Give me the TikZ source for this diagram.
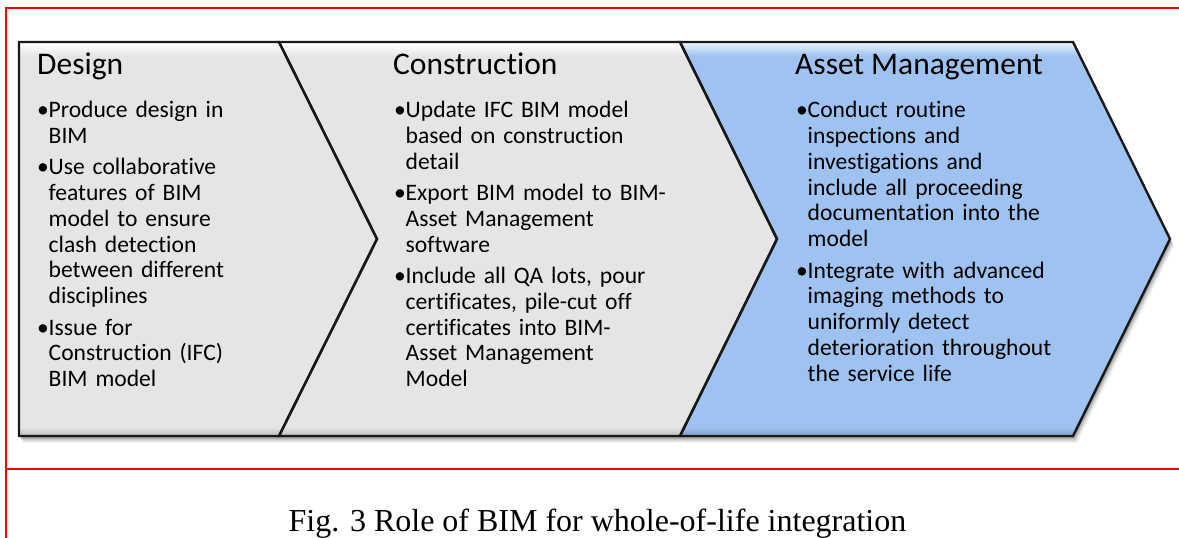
\documentclass[tikz,border=0pt]{standalone}
\usepackage{fontspec}
\setmainfont{Carlito}[Ligatures=NoCommon]
\newfontfamily\capfont{Liberation Serif}
\definecolor{chgray}{RGB}{229,229,229}
\definecolor{chblue}{RGB}{158,195,240}
\definecolor{framered}{RGB}{255,0,0}
\definecolor{edge}{RGB}{25,25,25}
\newcommand{\bitem}[1]{\noindent\hangindent=11.5pt\hangafter=1\makebox[11.5pt][l]{\textbullet}#1\par}
\tikzset{
  shapeA/.style={insert path={(19,42) -- (279,42) -- (377,239) -- (279,436) -- (19,436) -- cycle}},
  shapeB/.style={insert path={(279,42) -- (680,42) -- (777,239) -- (680,436) -- (279,436) -- (377,239) -- cycle}},
  shapeC/.style={insert path={(680,42) -- (1073,42) -- (1170,239) -- (1073,436) -- (680,436) -- (777,239) -- cycle}},
  shapeAll/.style={insert path={(19,42) -- (1073,42) -- (1170,239) -- (1073,436) -- (19,436) -- cycle}},
  border/.style={draw=edge, line width=2.4pt, line join=miter},
  ttl/.style={anchor=base west, inner sep=0pt, font=\fontsize{31.5}{36}\selectfont},
  blist/.style={anchor=base west, inner sep=0pt, text width=330pt, font=\fontsize{23.6}{26}\selectfont},
  capt/.style={anchor=base, inner sep=0pt, font=\capfont\fontsize{32}{36}\selectfont},
}
\begin{document}
\begin{tikzpicture}[x=1pt,y=-1pt]
\useasboundingbox (0,0) rectangle (1179,538);
% red frame
\draw[framered, line width=2pt] (6,538) -- (6,7.5) -- (1179,7.5);
\draw[framered, line width=2pt] (6,469) -- (1179,469);
% soft shadow
\foreach \d/\o in {1/0.14,2/0.12,3/0.10,4/0.08,5/0.06,6/0.05,7/0.04} {
  \fill[black, opacity=\o, shift={(0.6*\d,\d)}, shapeAll];
}
% fills
\fill[chgray, shapeA];
\fill[chgray, shapeB];
\fill[chblue, shapeC];
% bevel highlights
\begin{scope}
  \clip[shapeA];
  \shade[top color=white, bottom color=chgray] (0,43) rectangle (1179,56);
  \shade[top color=chgray, bottom color=chgray!82!black] (0,427) rectangle (1179,436);
\end{scope}
\begin{scope}
  \clip[shapeB];
  \shade[top color=white, bottom color=chgray] (0,43) rectangle (1179,56);
  \shade[top color=chgray, bottom color=chgray!82!black] (0,427) rectangle (1179,436);
\end{scope}
\begin{scope}
  \clip[shapeC];
  \shade[top color=chblue!25!white, bottom color=chblue] (0,43) rectangle (1179,56);
  \shade[top color=chblue, bottom color=chblue!82!black] (0,427) rectangle (1179,436);
\end{scope}
% borders
\path[border, shapeA];
\path[border, shapeB];
\path[border, shapeC];
% titles
\node[ttl] (t1) at (37,74) {Design};
\node[ttl] (t2) at (393,74) {Construction};
\node[ttl] (t3) at (795,74) {Asset Management};
% bullet lists
\node[blist] (b1) at (37,117) {\setlength{\parskip}{5pt}%
\bitem{Produce design in\newline BIM}%
\bitem{Use collaborative\newline features of BIM\newline model to ensure\newline clash detection\newline between different\newline disciplines}%
\bitem{Issue for\newline Construction (IFC)\newline BIM model}};
\node[blist] (b2) at (394,117) {\setlength{\parskip}{5pt}%
\bitem{Update IFC BIM model\newline based on construction\newline detail}%
\bitem{Export BIM model to BIM-\newline Asset Management\newline software}%
\bitem{Include all QA lots, pour\newline certificates, pile-cut off\newline certificates into BIM-\newline Asset Management\newline Model}};
\node[blist] (b3) at (796,117) {\setlength{\parskip}{5pt}%
\bitem{Conduct routine\newline inspections and\newline investigations and\newline include all proceeding\newline documentation into the\newline model}%
\bitem{Integrate with advanced\newline imaging methods to\newline uniformly detect\newline deterioration throughout\newline the service life}};
% caption
\node[capt] (cap) at (597.5,531) {Fig. 3 Role of BIM for whole-of-life integration};
\end{tikzpicture}
\end{document}
